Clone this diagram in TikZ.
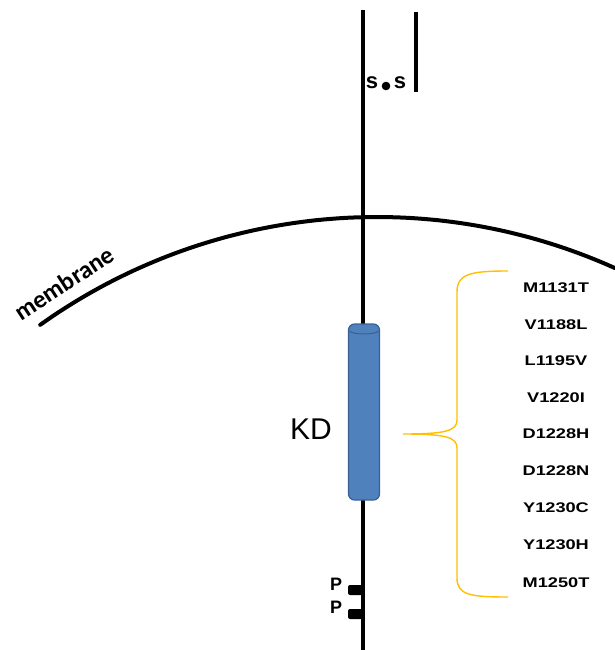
\documentclass[tikz,border=0pt]{standalone}
\usepackage{fontspec}
\setmainfont{Liberation Sans}
\newfontfamily\carlito{Carlito}
\definecolor{kdblue}{RGB}{79,129,189}
\definecolor{kdedge}{RGB}{58,96,146}
\definecolor{braceyellow}{RGB}{255,192,0}
\begin{document}
\begin{tikzpicture}[x=1pt,y=-1pt,
  blackline/.style={line width=3.6pt,black},
  mutlabel/.style={font=\bfseries\fontsize{14}{16}\selectfont,xscale=1.3,inner sep=0pt,anchor=center},
  plabel/.style={font=\bfseries\fontsize{18}{20}\selectfont,inner sep=0pt},
  sslabel/.style={font=\bfseries\fontsize{22}{24}\selectfont,inner sep=0pt},
  bracecol/.style={draw=braceyellow,line width=1.4pt}]
\useasboundingbox (0,0) rectangle (615,650);
% coordinates
\coordinate (top) at (363,10);
\coordinate (bottom) at (363,652);
\coordinate (top2) at (416,12);
\coordinate (bot2) at (416,92);
% main chain
\draw[blackline] (top) -- (bottom);
\draw[blackline] (top2) -- (bot2);
% membrane
\draw[line width=4pt,line cap=round] plot[domain=-125.5:-65.8,samples=80] ({377+580*cos(\x)},{797+580*sin(\x)});
\node[font=\carlito\bfseries\fontsize{25}{28}\selectfont,rotate=33,inner sep=0pt] (mem) at (64,283) {membrane};
% s-s
\node[sslabel] (s1) at (372,83) {s};
\node[sslabel] (s2) at (400,83) {s};
\fill (386,86) circle (4.3);
% kinase domain cylinder
\node[draw=kdedge,fill=kdblue,line width=1.2pt,rounded corners=6pt,minimum width=31pt,minimum height=176pt,inner sep=0pt] (kd) at (364,412) {};
\draw[kdedge,line width=1pt] (349.5,331) .. controls (352,335) and (376,335) .. (378.5,331);
\node[font=\fontsize{30}{34}\selectfont,inner sep=0pt] (kdl) at (311,429) {KD};
% phosphorylation sites
\fill[rounded corners=2pt] (348,585) rectangle (364,595);
\fill[rounded corners=2pt] (348,609) rectangle (364,619);
\node[plabel] (p1) at (336,584) {P};
\node[plabel] (p2) at (336,607) {P};
% brace
\coordinate (btop) at (508,271);
\coordinate (btip) at (403,434);
\coordinate (bbot) at (508,597);
\draw[bracecol] (btop) .. controls (470,271) and (457,274) .. (457,292) -- (457,420)
   .. controls (457,431) and (445,434) .. (btip)
   .. controls (445,434) and (457,437) .. (457,448) -- (457,578)
   .. controls (457,595) and (470,597) .. (bbot);
% mutation labels
\node[mutlabel] (m1) at (556,288) {M1131T};
\node[mutlabel] (m2) at (556,325) {V1188L};
\node[mutlabel] (m3) at (556,361) {L1195V};
\node[mutlabel] (m4) at (556,398) {V1220I};
\node[mutlabel] (m5) at (556,434) {D1228H};
\node[mutlabel] (m6) at (556,471) {D1228N};
\node[mutlabel] (m7) at (556,508) {Y1230C};
\node[mutlabel] (m8) at (556,545) {Y1230H};
\node[mutlabel] (m9) at (556,583) {M1250T};
\end{tikzpicture}
\end{document}
